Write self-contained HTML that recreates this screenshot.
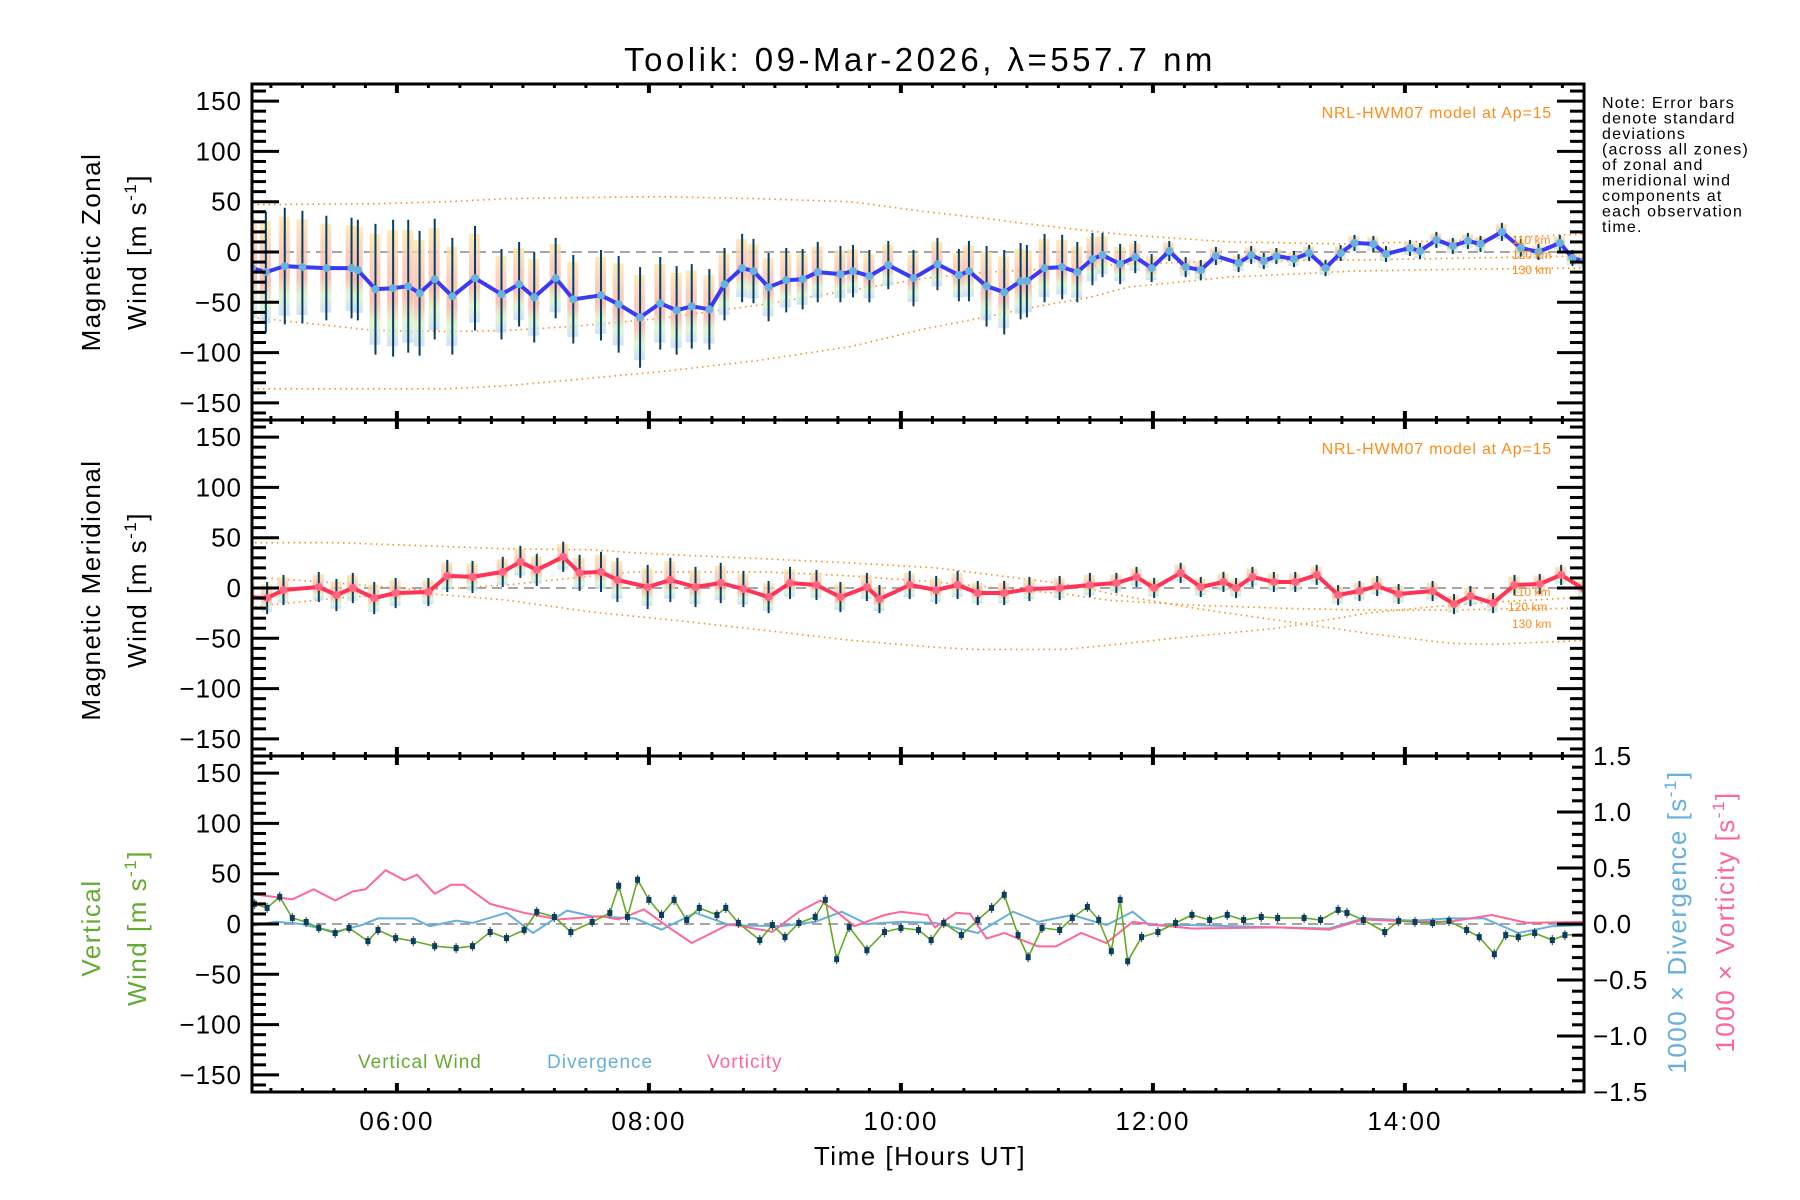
<!DOCTYPE html>
<html><head><meta charset="utf-8"><style>
html,body{margin:0;padding:0;background:#fff;}
svg{display:block;font-family:"Liberation Sans",sans-serif;}
</style></head><body>
<svg id="chart" width="1800" height="1200" viewBox="0 0 1800 1200" xmlns="http://www.w3.org/2000/svg">
<defs>
<linearGradient id="pastel" x1="0" y1="0" x2="0" y2="1">
<stop offset="0" stop-color="#fbe7a6"/><stop offset="0.3" stop-color="#f9c6b0"/><stop offset="0.6" stop-color="#f7b4a4"/><stop offset="0.8" stop-color="#d8f5c8"/><stop offset="1" stop-color="#c4d8f8"/>
</linearGradient>
</defs>
<text x="920" y="71" font-size="33" letter-spacing="3.5" text-anchor="middle">Toolik: 09-Mar-2026, λ=557.7 nm</text>
<g id="marks"></g>
<g id="axes"></g>
<text x="1552" y="118" font-size="16" letter-spacing="0.8" fill="#ff8c1a" text-anchor="end">NRL-HWM07 model at Ap=15</text>
<text x="1552" y="454" font-size="16" letter-spacing="0.8" fill="#ff8c1a" text-anchor="end">NRL-HWM07 model at Ap=15</text>
<g font-size="16" letter-spacing="1.2" fill="#000">
<text x="1602" y="108">Note: Error bars</text>
<text x="1602" y="123.5">denote standard</text>
<text x="1602" y="139">deviations</text>
<text x="1602" y="154.5">(across all zones)</text>
<text x="1602" y="170">of zonal and</text>
<text x="1602" y="185.5">meridional wind</text>
<text x="1602" y="201">components at</text>
<text x="1602" y="216.5">each observation</text>
<text x="1602" y="232">time.</text>
</g>
<g font-size="12" fill="#ff8c1a">
<text x="1512" y="244">110 km</text>
<text x="1512" y="259">120 km</text>
<text x="1512" y="274">130 km</text>
<text x="1512" y="596">110 km</text>
<text x="1508" y="611">120 km</text>
<text x="1512" y="628">130 km</text>
</g>
<g font-size="26" letter-spacing="1.5">
<text transform="translate(100,252) rotate(-90)" text-anchor="middle">Magnetic Zonal</text>
<text transform="translate(146,252) rotate(-90)" text-anchor="middle">Wind [m s<tspan font-size="17" dy="-10">-1</tspan><tspan dy="10">]</tspan></text>
<text transform="translate(100,590) rotate(-90)" text-anchor="middle">Magnetic Meridional</text>
<text transform="translate(146,590) rotate(-90)" text-anchor="middle">Wind [m s<tspan font-size="17" dy="-10">-1</tspan><tspan dy="10">]</tspan></text>
<text transform="translate(100,928) rotate(-90)" text-anchor="middle" fill="#66aa33">Vertical</text>
<text transform="translate(146,928) rotate(-90)" text-anchor="middle" fill="#66aa33">Wind [m s<tspan font-size="17" dy="-10">-1</tspan><tspan dy="10">]</tspan></text>
<text transform="translate(1686,922) rotate(-90)" text-anchor="middle" fill="#66b0dd">1000 × Divergence [s<tspan font-size="17" dy="-10">-1</tspan><tspan dy="10">]</tspan></text>
<text transform="translate(1734,922) rotate(-90)" text-anchor="middle" fill="#ff6699">1000 × Vorticity [s<tspan font-size="17" dy="-10">-1</tspan><tspan dy="10">]</tspan></text>
<text x="920" y="1165" text-anchor="middle">Time [Hours UT]</text>
</g>
<g font-size="19" letter-spacing="1">
<text x="358" y="1068" fill="#66aa33">Vertical Wind</text>
<text x="547" y="1068" fill="#66b0dd">Divergence</text>
<text x="707" y="1068" fill="#ff6699">Vorticity</text>
</g>
</svg>
<script>
// ---- data ----
const zonalTimes=[4.85,4.96,5.11,5.25,5.44,5.64,5.69,5.83,5.97,6.09,6.18,6.30,6.44,6.62,6.83,6.97,7.09,7.26,7.40,7.62,7.76,7.93,8.09,8.22,8.34,8.48,8.60,8.74,8.83,8.95,9.09,9.22,9.34,9.52,9.62,9.75,9.90,10.10,10.29,10.46,10.54,10.68,10.82,10.95,11.00,11.14,11.28,11.40,11.52,11.60,11.74,11.86,11.99,12.13,12.26,12.38,12.50,12.68,12.78,12.88,12.98,13.12,13.24,13.37,13.49,13.60,13.75,13.85,14.04,14.12,14.25,14.38,14.50,14.60,14.77,14.92,15.06,15.23,15.33,15.42];
const zonalWind=[-16,-20,-14,-15,-16,-16,-18,-37,-36,-34,-41,-27,-44,-26,-42,-32,-45,-26,-47,-43,-52,-65,-51,-58,-54,-57,-32,-16,-19,-35,-28,-27,-20,-22,-19,-24,-13,-26,-12,-23,-19,-34,-40,-29,-29,-16,-15,-20,-7,-3,-12,-5,-16,1,-15,-18,-4,-11,-3,-9,-4,-7,-1,-16,-1,9,8,-2,4,1,12,6,11,8,20,4,0,9,-6,-9];
const zonalStd=[58,60,58,56,52,50,50,65,68,66,62,60,58,52,45,42,45,40,44,45,48,50,46,44,42,40,36,34,32,34,32,30,30,28,26,26,24,28,26,26,30,40,42,38,36,34,32,30,26,22,20,16,14,10,10,10,9,9,9,8,8,8,8,8,8,8,8,8,8,8,8,8,8,8,9,9,8,8,8,8];
const meridTimes=[4.83,4.97,5.10,5.38,5.52,5.65,5.82,5.99,6.25,6.40,6.60,6.84,6.98,7.11,7.32,7.45,7.62,7.75,7.99,8.17,8.37,8.57,8.75,8.95,9.12,9.33,9.52,9.73,9.83,10.07,10.28,10.45,10.61,10.82,11.02,11.26,11.50,11.71,11.87,12.01,12.22,12.38,12.56,12.66,12.79,12.96,13.13,13.30,13.47,13.64,13.78,13.95,14.22,14.39,14.52,14.70,14.87,15.07,15.24,15.42];
const meridWind=[-9,-10,-2,1,-7,0,-10,-5,-4,12,11,16,26,18,31,15,16,8,1,8,1,5,-1,-9,5,3,-9,1,-11,3,-2,3,-5,-5,-1,0,3,5,11,0,15,1,6,0,11,6,6,13,-7,-3,2,-6,-3,-16,-8,-15,3,4,13,-1];
const meridStd=[16,16,15,15,16,15,16,15,14,16,16,15,16,16,15,18,20,22,22,22,20,20,18,16,16,15,15,14,14,14,14,14,12,12,12,12,12,10,10,10,10,10,10,10,10,10,10,10,10,10,10,10,10,10,10,10,10,10,10,10];
const modelTimes=[4.85,5.83,6.4,6.86,7.4,8.09,8.86,9.6,10.2,10.7,11.0,11.5,11.8,12.6,13.6,14.5,15.42];
const zonalModel110=[47,48,50,53,54,55,53,50,40,33,28,21,17,10,8,12,18];
const zonalModel120=[-65,-78,-79,-78,-74,-66,-53,-38,-26,-20,-18,-14,-12,-9,-8,-6,-4];
const zonalModel130=[-136,-136,-136,-133,-127,-119,-108,-94,-76,-64,-56,-45,-35,-25,-19,-17,-16];
const meridModelTimes=[4.83,5.52,6.2,6.87,7.55,7.88,8.2,8.92,9.6,10.28,10.6,11.3,11.64,12.32,12.99,13.7,14.36,14.7,15.45];
const meridModelA=[45,45,42,39,38,35,33,29,25,20,15,4,-5,-20,-32,-45,-55,-56,-52];
const meridModelB=[11,5,-2,3,12,16,16,16,12,6,2,-6,-12,-17,-20,-22,-22,-21,-20];
const meridModelC=[-19,-10,-5,-12,-24,-28,-32,-42,-52,-59,-61,-61,-57,-48,-40,-25,-17,-14,-9];
const vertTimes=[4.83,4.87,4.97,5.07,5.17,5.28,5.38,5.51,5.62,5.77,5.85,5.99,6.13,6.30,6.47,6.60,6.74,6.87,7.01,7.11,7.25,7.38,7.55,7.69,7.76,7.83,7.91,8.00,8.10,8.20,8.30,8.40,8.54,8.61,8.71,8.88,8.98,9.08,9.19,9.32,9.40,9.49,9.59,9.73,9.87,10.00,10.14,10.24,10.34,10.48,10.61,10.72,10.82,10.93,11.01,11.12,11.26,11.36,11.48,11.57,11.67,11.74,11.80,11.91,12.04,12.18,12.31,12.45,12.59,12.72,12.86,12.99,13.20,13.33,13.47,13.54,13.67,13.84,13.95,14.08,14.22,14.35,14.49,14.59,14.71,14.80,14.90,15.03,15.17,15.27,15.44];
const vertWind=[30,20,16,27,6,2,-4,-9,-4,-17,-6,-14,-17,-22,-24,-22,-8,-14,-6,12,7,-8,2,11,38,7,44,24,9,24,4,16,9,16,1,-16,-1,-13,1,7,24,-35,-3,-26,-8,-4,-6,-16,1,-11,4,16,29,-11,-33,-4,-6,6,17,4,-27,24,-37,-13,-8,1,9,4,9,4,7,6,6,4,14,11,4,-8,3,2,1,3,-6,-13,-30,-11,-13,-9,-16,-11,-10];
const divTimes=[4.83,5.04,5.24,5.51,5.72,5.85,6.13,6.26,6.47,6.60,6.87,7.08,7.35,7.55,7.89,8.10,8.37,8.64,9.05,9.32,9.53,9.73,10.00,10.27,10.61,10.89,11.09,11.36,11.63,11.84,11.97,12.31,12.65,12.99,13.40,13.67,14.08,14.35,14.63,14.90,15.17,15.44];
const divergence=[-0.02,0.02,0,-0.07,-0.01,0.05,0.05,-0.02,0.03,0.01,0.10,-0.08,0.12,0.07,0.05,-0.05,0.10,-0.01,-0.02,0.02,0.11,0,0.02,0.01,-0.08,0.11,0.02,0.08,-0.01,0.11,-0.01,-0.01,-0.02,-0.03,-0.04,0.05,0.03,0.05,0.05,-0.08,-0.02,-0.01];
const vortTimes=[4.83,5.04,5.17,5.34,5.51,5.65,5.75,5.91,6.06,6.16,6.30,6.43,6.53,6.74,7.01,7.28,7.62,7.76,7.96,8.17,8.34,8.64,8.98,9.19,9.36,9.49,9.63,9.87,10.00,10.21,10.27,10.44,10.55,10.68,10.82,11.09,11.23,11.43,11.63,11.84,12.04,12.31,12.99,13.40,13.67,14.08,14.35,14.69,14.97,15.44];
const vorticity=[0.27,0.24,0.22,0.31,0.21,0.29,0.31,0.48,0.39,0.44,0.27,0.35,0.35,0.18,0.10,0.04,0.07,0.04,0.13,-0.04,-0.17,0,-0.07,0.11,0.21,0.11,-0.02,0.08,0.11,0.08,-0.03,0.10,0.09,-0.13,-0.08,-0.20,-0.20,-0.08,-0.17,0.02,-0.01,-0.04,-0.03,-0.05,0.04,0.02,0.02,0.08,0.01,0.02];
const xTickLabels=["06:00","08:00","10:00","12:00","14:00"];
const xTickHours=[6,8,10,12,14];
const yTickLabels=["150","100","50","0","−50","−100","−150"];
const yTickValues=[150,100,50,0,-50,-100,-150];
const rTickLabels=["1.5","1.0","0.5","0.0","−0.5","−1.0","−1.5"];
const rTickValues=[1.5,1.0,0.5,0.0,-0.5,-1.0,-1.5];

// ---- scales ----
const L=252,R=1584,T0=4.85,PXH=126,PH=336,tops=[84,420,756];
const YR=167;
function X(t){return L+(t-T0)*PXH;}
function Y(p,v){return tops[p]+PH/2-v*(PH/2)/YR;}
function YRt(v){return tops[2]+PH/2-v*(PH/2)/1.5;}
const NS="http://www.w3.org/2000/svg";
const marks=document.getElementById('marks'),axes=document.getElementById('axes');
function mk(tag,at,parent){const e=document.createElementNS(NS,tag);for(const k in at)e.setAttribute(k,at[k]);(parent||marks).appendChild(e);return e;}
function pathOf(ts,vs,fy){return ts.map((t,i)=>(i?'L':'M')+X(t).toFixed(1)+','+fy(vs[i]).toFixed(1)).join('');}

const cp=mk('clipPath',{id:'plotclip'});mk('rect',{x:L,y:84,width:R-L,height:1008},cp);
const g=mk('g',{'clip-path':'url(#plotclip)'});

for(let p=0;p<3;p++){const z=mk('line',{x1:L,x2:R,y1:Y(p,0),y2:Y(p,0),stroke:'#888','stroke-width':1.5,'stroke-dasharray':'10,6'},g);

}

function model(p,ts,vs,name){const e=mk('path',{d:pathOf(ts,vs,v=>Y(p,v)),fill:'none',stroke:'#ff8c1a','stroke-width':1.6,'stroke-dasharray':'1.5,4'},g);

}
model(0,modelTimes,zonalModel110,'zonal-model-110km');
model(0,modelTimes,zonalModel120,'zonal-model-120km');
model(0,modelTimes,zonalModel130,'zonal-model-130km');
model(1,meridModelTimes,meridModelA,'merid-model-110km');
model(1,meridModelTimes,meridModelB,'merid-model-120km');
model(1,meridModelTimes,meridModelC,'merid-model-130km');

function windPanel(p,ts,vs,sd,lineCol,dotCol,prefix){
  ts.forEach((t,i)=>{
    const b=mk('rect',{x:X(t)-6,y:Y(p,vs[i]+sd[i]*0.85),width:11,height:Y(p,vs[i]-sd[i]*0.85)-Y(p,vs[i]+sd[i]*0.85),fill:'url(#pastel)',opacity:0.8},g);
    
    
  });
  ts.forEach((t,i)=>{
    const e=mk('line',{x1:X(t),x2:X(t),y1:Y(p,vs[i]+sd[i]),y2:Y(p,vs[i]-sd[i]),stroke:'#0a3d62','stroke-width':2},g);
    
    
  });
  const ln=mk('path',{d:pathOf(ts,vs,v=>Y(p,v)),fill:'none',stroke:lineCol,'stroke-width':4,'stroke-linejoin':'round'},g);
  
  
  ts.forEach((t,i)=>{
    const d=mk('circle',{cx:X(t),cy:Y(p,vs[i]),r:4,fill:dotCol},g);
    
    
  });
}
windPanel(0,zonalTimes,zonalWind,zonalStd,'#3a3af5','#66b3e0','zonal-wind');
windPanel(1,meridTimes,meridWind,meridStd,'#ff3355','#ff6680','meridional-wind');

const dv=mk('path',{d:pathOf(divTimes,divergence,YRt),fill:'none',stroke:'#66b0dd','stroke-width':2},g);


const vt=mk('path',{d:pathOf(vortTimes,vorticity,YRt),fill:'none',stroke:'#ff6699','stroke-width':2},g);


vertTimes.forEach((t,i)=>{const e=mk('line',{x1:X(t),x2:X(t),y1:Y(2,vertWind[i]+5),y2:Y(2,vertWind[i]-5),stroke:'#555','stroke-width':1.2},g);

});
const vw=mk('path',{d:pathOf(vertTimes,vertWind,v=>Y(2,v)),fill:'none',stroke:'#66aa22','stroke-width':1.6},g);


vertTimes.forEach((t,i)=>{const d=mk('rect',{x:X(t)-2.5,y:Y(2,vertWind[i])-3,width:5,height:6,fill:'#0a3d62'},g);

});

function ax(tag,at){return mk(tag,at,axes);}
for(let p=0;p<3;p++){
  const top=tops[p],bot=top+PH;
  const fr=ax('rect',{x:L,y:top,width:R-L,height:PH,fill:'none',stroke:'#000','stroke-width':3});
  
  
  for(let v=-160;v<=160;v+=10){
    const y=Y(p,v),len=(v%50===0)?27:14;
    ax('line',{x1:L,x2:L+len,y1:y,y2:y,stroke:'#000','stroke-width':3});
    if(p<2) ax('line',{x1:R-len,x2:R,y1:y,y2:y,stroke:'#000','stroke-width':3});
  }
  yTickValues.forEach((v,i)=>{const t=ax('text',{x:242,y:Y(p,v)+9,'font-size':26,'letter-spacing':1,'text-anchor':'end'});t.textContent=yTickLabels[i];
  
  });
  for(let h=5;h<=15.25;h+=0.25){
    const x=X(h),maj=(Math.abs(h%2)<1e-6);const len=maj?9:4;
    ax('line',{x1:x,x2:x,y1:bot,y2:bot-len,stroke:'#000','stroke-width':maj?4:3});
    ax('line',{x1:x,x2:x,y1:top,y2:top+len,stroke:'#000','stroke-width':maj?4:3});
  }
}
for(let k=-15;k<=15;k++){const y=YRt(k/10),len=(k%5===0)?27:12;ax('line',{x1:R-len,x2:R,y1:y,y2:y,stroke:'#000','stroke-width':3});}
rTickValues.forEach((v,i)=>{const t=ax('text',{x:1593,y:YRt(v)+9,'font-size':26,'letter-spacing':1});t.textContent=rTickLabels[i];

});
xTickHours.forEach((h,i)=>{const t=ax('text',{x:X(h),y:1130,'font-size':26,'letter-spacing':2,'text-anchor':'middle'});t.textContent=xTickLabels[i];

});
</script>
</body></html>
